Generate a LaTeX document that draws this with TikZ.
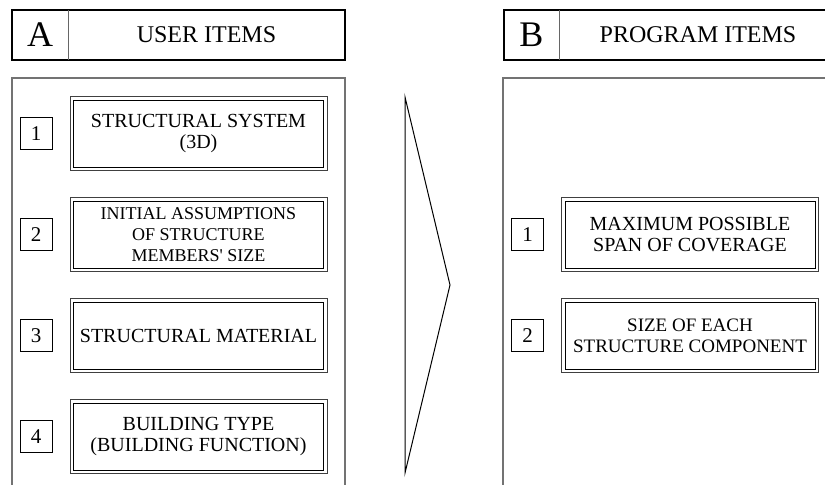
\documentclass[tikz,border=0pt]{standalone}
\usepackage{fontspec}
\setmainfont{Liberation Serif}
\usepackage{tikz}
\usetikzlibrary{positioning, calc}
\tikzset{%
	head/.style={minimum height=25pt, inner sep=0pt, outer sep=0pt},
	letter/.style={head, minimum width=28pt, font=\fontsize{18}{18}\selectfont},
	title/.style={head, minimum width=138.5pt, font=\fontsize{12}{12}\selectfont},
	frame/.style={line width=1pt},
	divider/.style={draw=black!60, line width=0.5pt},
	panel/.style={draw=black!55, line width=0.8pt},
	item/.style={draw, line width=0.5pt, minimum width=125pt, minimum height=33.5pt,%
		inner sep=1pt, align=center, font=\fontsize{10}{10.5}\selectfont,%
		append after command={\pgfextra{\draw[draw=black!75, line width=0.5pt]
			([shift={(-1.5pt,1.5pt)}]\tikzlastnode.north west) rectangle
			([shift={(1.5pt,-1.5pt)}]\tikzlastnode.south east);}}},
	num/.style={draw, line width=0.5pt, minimum size=16pt, inner sep=0pt,%
		font=\fontsize{10.5}{10.5}\selectfont},
	chevron/.style={line width=0.5pt, line join=miter}
}
\begin{document}
\begin{tikzpicture}[x=0.5pt, y=-0.5pt]
	\clip (0,0) rectangle (825,485);

	%headers
	\node[letter] (hA) at (40,35) {A};
	\node[title, right=0pt of hA] (tA) {USER ITEMS};
	\draw[frame] (hA.north west) rectangle (tA.south east);
	\draw[divider] (hA.north east) -- (hA.south east);

	\node[letter] (hB) at (531.5,35) {B};
	\node[title, right=0pt of hB] (tB) {PROGRAM ITEMS};
	\draw[frame] (hB.north west) rectangle (tB.south east);
	\draw[divider] (hB.north east) -- (hB.south east);

	%panels
	\draw[panel] (12,495) -- (12,78) -- (345,78) -- (345,495);
	\draw[panel] (503,495) -- (503,78) -- (836,78) -- (836,495);

	%user items
	\node[item] (a1) at (198.5,134) {STRUCTURAL SYSTEM\\(3D)};
	\node[item, below=16.5pt of a1, font=\fontsize{9}{10.5}\selectfont] (a2)
		{INITIAL ASSUMPTIONS\\OF STRUCTURE\\MEMBERS\textquotesingle{} SIZE};
	\node[item, below=16.5pt of a2] (a3) {STRUCTURAL MATERIAL};
	\node[item, below=16.5pt of a3] (a4) {BUILDING TYPE\\(BUILDING FUNCTION)};

	\node[num, left=10.25pt of a1] (n1) {1};
	\node[num, left=10.25pt of a2] (n2) {2};
	\node[num, left=10.25pt of a3] (n3) {3};
	\node[num, left=10.25pt of a4] (n4) {4};

	%leads-to chevron
	\coordinate (tip) at (450,285);
	\draw[chevron] (405,97) -- (tip) -- (405,473) -- cycle;

	%program items
	\node[item] (b1) at (690,235) {MAXIMUM POSSIBLE\\SPAN OF COVERAGE};
	\node[item, below=16.5pt of b1, font=\fontsize{9.5}{10.5}\selectfont] (b2)
		{SIZE OF EACH\\STRUCTURE COMPONENT};

	\node[num, left=10.25pt of b1] (m1) {1};
	\node[num, left=10.25pt of b2] (m2) {2};

\end{tikzpicture}
\end{document}
